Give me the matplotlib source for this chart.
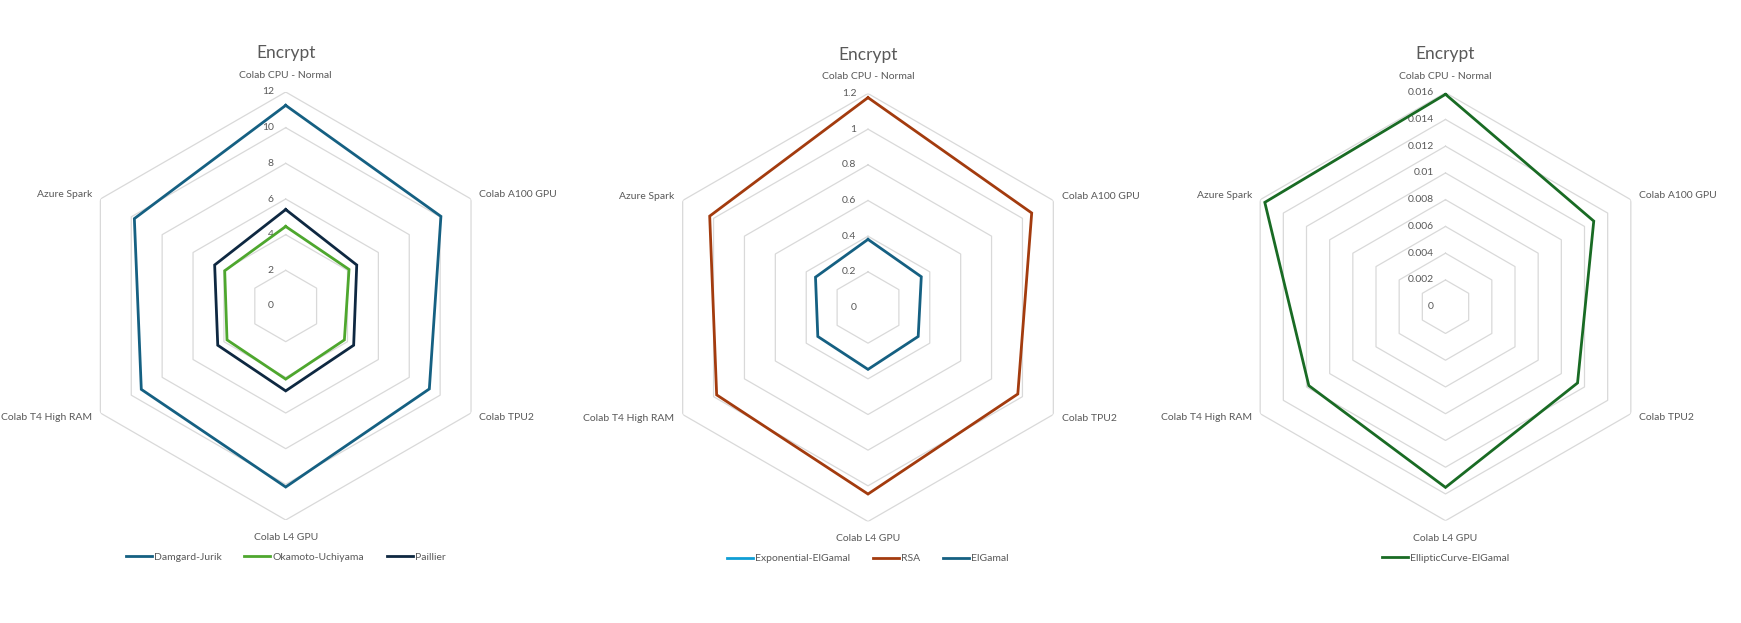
import numpy as np
import matplotlib
matplotlib.use('Agg')
import matplotlib.pyplot as plt

plt.rcParams['font.family'] = ['Lato', 'DejaVu Sans']

categories = ['Colab CPU - Normal', 'Colab A100 GPU', 'Colab TPU2',
              'Colab L4 GPU', 'Colab T4 High RAM', 'Azure Spark']

# chart 1
damgard_jurik = [11.25, 10.05, 9.3, 10.15, 9.35, 9.8]
okamoto_uchiyama = [4.46, 4.1, 3.8, 4.1, 3.8, 3.95]
paillier = [5.41, 4.6, 4.4, 4.76, 4.4, 4.6]
ticks1 = [0, 2, 4, 6, 8, 10, 12]
ticklabels1 = ['0', '2', '4', '6', '8', '10', '12']

# chart 2
exp_elgamal = [0.0, 0.0, 0.0, 0.0, 0.0, 0.0]
rsa = [1.177, 1.06, 0.97, 1.046, 0.98, 1.025]
elgamal = [0.382, 0.345, 0.325, 0.347, 0.325, 0.34]
ticks2 = [0, 0.2, 0.4, 0.6, 0.8, 1.0, 1.2]
ticklabels2 = ['0', '0.2', '0.4', '0.6', '0.8', '1', '1.2']

# chart 3
ec_elgamal = [0.01588, 0.0128, 0.0114, 0.01351, 0.0118, 0.0156]
ticks3 = [0, 0.002, 0.004, 0.006, 0.008, 0.01, 0.012, 0.014, 0.016]
ticklabels3 = ['0', '0.002', '0.004', '0.006', '0.008', '0.01', '0.012', '0.014', '0.016']

TEXT = '#595959'
GRID = '#D9D9D9'
W, H = 1741, 623


def radar(rect, series, ticks, ticklabels):
    ax = fig.add_axes(rect, projection='polar')
    ax.set_theta_zero_location('N')
    ax.set_theta_direction(-1)
    ax.grid(False)
    ax.spines['polar'].set_visible(False)
    ax.set_xticks([])
    ax.set_yticks([])
    ax.set_ylim(0, ticks[-1])
    n = len(categories)
    ang = np.linspace(0, 2 * np.pi, n, endpoint=False)
    ang_c = np.append(ang, ang[0])
    for t in ticks[1:]:
        ax.plot(ang_c, [t] * (n + 1), color=GRID, lw=0.9, zorder=1)
    for t, lab in zip(ticks, ticklabels):
        ax.annotate(lab, xy=(0, t), xytext=(-8.5, 0), textcoords='offset points',
                    ha='right', va='center', fontsize=7.5, color=TEXT, zorder=2)
    rmax = ticks[-1]
    offs = [(0, 12, 'center', 'center'), (6, 3, 'left', 'center'),
            (6, -3, 'left', 'center'), (0, -12.5, 'center', 'center'),
            (-6, -3, 'right', 'center'), (-6, 3, 'right', 'center')]
    for a, c, (dx, dy, ha, va) in zip(ang, categories, offs):
        ax.annotate(c, xy=(a, rmax), xytext=(dx, dy), textcoords='offset points',
                    ha=ha, va=va, fontsize=7.5, color=TEXT)
    for name, vals, col in series:
        ax.plot(ang_c, vals + vals[:1], color=col, lw=2.0, label=name, zorder=3,
                solid_joinstyle='miter')
    ax.annotate('Encrypt', xy=(0, rmax), xytext=(0, 28), textcoords='offset points',
                ha='center', va='center', fontsize=12.5, color=TEXT)
    leg = ax.legend(loc='center', bbox_to_anchor=(0.5, -0.087), ncol=len(series),
                    frameon=False, fontsize=7.5, handlelength=2.5, handletextpad=0.2,
                    columnspacing=2.2)
    for txt in leg.get_texts():
        txt.set_color(TEXT)
    return ax


def rect_for(cx, cy, r=214):
    return [(cx - r) / W, (H - cy - r) / H, 2 * r / W, 2 * r / H]


fig = plt.figure(figsize=(W / 100, H / 100), dpi=100)

radar(rect_for(285.7, 306), [('Damgard-Jurik', damgard_jurik, '#156082'),
                             ('Okamoto-Uchiyama', okamoto_uchiyama, '#4EA72E'),
                             ('Paillier', paillier, '#0E2841')], ticks1, ticklabels1)
radar(rect_for(868, 307.5), [('Exponential-ElGamal', exp_elgamal, '#0F9ED5'),
                             ('RSA', rsa, '#A33B0E'),
                             ('ElGamal', elgamal, '#156082')], ticks2, ticklabels2)
radar(rect_for(1445.5, 306.7), [('EllipticCurve-ElGamal', ec_elgamal, '#196B24')],
      ticks3, ticklabels3)

fig.savefig('out.png', dpi=100, facecolor='white')
